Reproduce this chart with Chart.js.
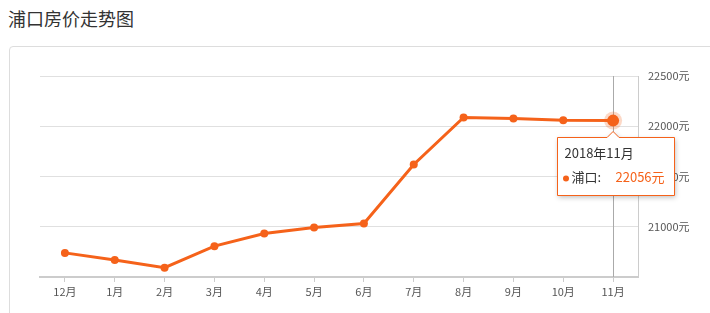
<!DOCTYPE html>
<html><head><meta charset="utf-8">
<script src="https://cdn.jsdelivr.net/npm/chart.js@4"></script>
<style>
html,body{margin:0;padding:0;background:#fff;width:710px;height:313px;overflow:hidden;font-family:"Noto Sans CJK SC",sans-serif;}
#title{position:absolute;left:8px;top:8px;font-size:18px;line-height:20px;color:#333;}
#card{position:absolute;left:9px;top:46px;width:760px;height:320px;border:1px solid #ddd;border-radius:4px;box-sizing:border-box;}
#wrap{position:absolute;left:0;top:0;width:710px;height:313px;}
</style></head><body>
<div id="title">浦口房价走势图</div>
<div id="card"></div>
<div id="wrap"><canvas id="c" width="710" height="313"></canvas></div>
<script>
const categories = ['12月','1月','2月','3月','4月','5月','6月','7月','8月','9月','10月','11月'];
const prices = [20740, 20670, 20593, 20807, 20933, 20993, 21033, 21620, 22087, 22077, 22060, 22056];
const tickValues = [20500, 21000, 21500, 22000, 22500];
const seriesName = '浦口';
const tipTitle = '2018年11月';
const activeIndex = 11;
const ORANGE = '#f5621a';
const FONT = '"Noto Sans CJK SC", sans-serif';

const overlay = {
  id: 'overlay',
  beforeDatasetsDraw(chart) {
    const ctx = chart.ctx, a = chart.chartArea;
    const pt = chart.getDatasetMeta(0).data[activeIndex];
    ctx.save();
    ctx.strokeStyle = '#aaa'; ctx.lineWidth = 1;
    ctx.beginPath(); ctx.moveTo(Math.round(pt.x)+0.5, a.top); ctx.lineTo(Math.round(pt.x)+0.5, a.bottom); ctx.stroke();
    ctx.restore();
  },
  afterDatasetsDraw(chart) {
    const ctx = chart.ctx;
    const pt = chart.getDatasetMeta(0).data[activeIndex];
    ctx.save();
    ctx.fillStyle = 'rgba(245,98,26,0.25)';
    ctx.beginPath(); ctx.arc(pt.x, pt.y, 9, 0, Math.PI*2); ctx.fill();
    ctx.fillStyle = ORANGE;
    ctx.beginPath(); ctx.arc(pt.x, pt.y, 6, 0, Math.PI*2); ctx.fill();
    // tooltip
    const w = 117, h = 58;
    const bx = Math.round(pt.x - 56.5) + 0.5, by = Math.round(pt.y + 16) + 0.5;
    ctx.shadowColor = 'rgba(0,0,0,0.25)'; ctx.shadowBlur = 5; ctx.shadowOffsetX = 1; ctx.shadowOffsetY = 2;
    ctx.fillStyle = '#fff'; ctx.strokeStyle = ORANGE; ctx.lineWidth = 1;
    ctx.beginPath();
    ctx.moveTo(bx, by);
    ctx.lineTo(pt.x - 6, by);
    ctx.lineTo(pt.x, by - 6);
    ctx.lineTo(pt.x + 6, by);
    ctx.lineTo(bx + w, by);
    ctx.lineTo(bx + w, by + h);
    ctx.lineTo(bx, by + h);
    ctx.closePath();
    ctx.fill();
    ctx.shadowColor = 'transparent';
    ctx.stroke();
    ctx.font = '13px ' + FONT;
    ctx.textBaseline = 'middle';
    ctx.fillStyle = '#333';
    ctx.fillText(tipTitle, bx + 7, by + 16);
    ctx.fillStyle = ORANGE;
    ctx.beginPath(); ctx.arc(bx + 8.5, by + 41, 3, 0, Math.PI*2); ctx.fill();
    ctx.fillStyle = '#333';
    ctx.fillText(seriesName + ':', bx + 14, by + 40);
    ctx.fillStyle = ORANGE;
    ctx.fillText(prices[activeIndex] + '元', bx + 58, by + 40);
    ctx.restore();
  }
};

new Chart(document.getElementById('c'), {
  type: 'line',
  data: {
    labels: categories,
    datasets: [{
      label: seriesName,
      data: prices,
      borderColor: ORANGE,
      backgroundColor: ORANGE,
      borderWidth: 3,
      pointRadius: 4,
      pointBackgroundColor: ORANGE,
      pointBorderWidth: 0,
      tension: 0,
      fill: false
    }]
  },
  options: {
    responsive: false,
    animation: false,
    events: [],
    layout: { padding: { left: 40, top: 76, right: 0, bottom: 0 } },
    plugins: { legend: { display: false }, tooltip: { enabled: false } },
    scales: {
      x: {
        offset: true,
        afterFit(s) { s.height = 36; },
        grid: { offset: false, drawOnChartArea: false, drawTicks: true, tickLength: 5, color: '#ccc' },
        border: { display: true, color: '#ccc', width: 2 },
        ticks: { color: '#555', font: { size: 11, family: FONT }, padding: 3, maxRotation: 0, autoSkip: false }
      },
      y: {
        position: 'right',
        min: 20500, max: 22500,
        afterFit(s) { s.width = 72; },
        afterBuildTicks(s) { s.ticks = tickValues.map(v => ({ value: v })); },
        grid: { color: '#e0e0e0', drawTicks: false },
        border: { display: true, color: '#ccc', width: 1 },
        ticks: {
          color: '#555', font: { size: 11, family: FONT }, padding: 10,
          callback: v => v === tickValues[0] ? '' : v + '元'
        }
      }
    }
  },
  plugins: [overlay]
});
</script>
</body></html>
